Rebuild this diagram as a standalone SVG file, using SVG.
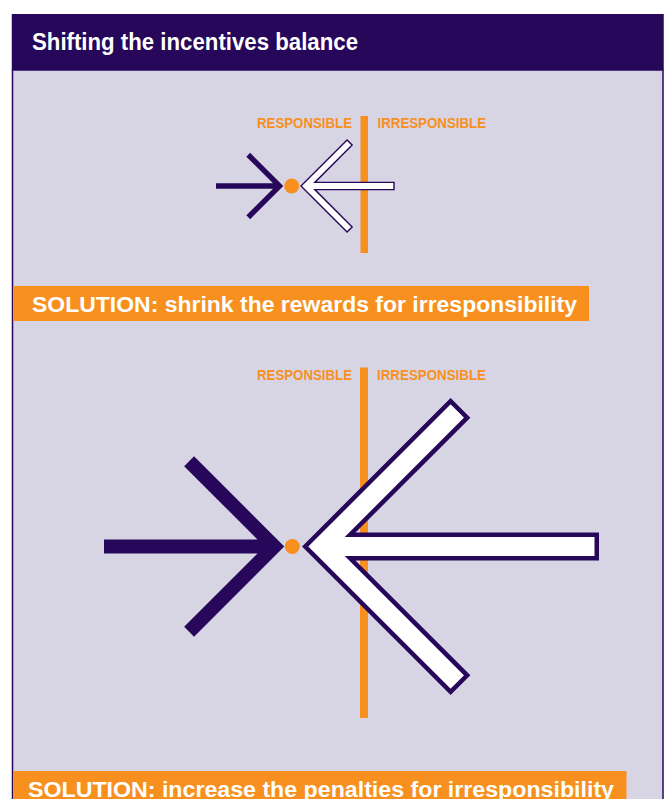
<svg xmlns="http://www.w3.org/2000/svg" width="666" height="799" viewBox="0 0 666 799">
<style>
.purple{fill:#26075a}
.orange{fill:#f7901e}
.white-arrow{fill:#ffffff;stroke:#26075a;stroke-linejoin:miter}
.title{font-family:"Liberation Sans Narrow","Liberation Sans",Arial,sans-serif;font-weight:bold;fill:#ffffff}
.lbl{font-family:"Liberation Sans Narrow","Liberation Sans",Arial,sans-serif;font-weight:bold;font-size:14px;fill:#f7901e}
</style>
<rect width="666" height="799" fill="#ffffff"/>
<g id="panel">
<rect x="12.5" y="70" width="650.5" height="740" fill="#d7d4e4" stroke="#26075a" stroke-width="1.5"/>
</g>
<g id="header">
<rect x="11.75" y="14" width="652" height="56" class="purple"/>
<text class="title" x="32" y="49.5" font-size="23" textLength="326" lengthAdjust="spacingAndGlyphs">Shifting the incentives balance</text>
</g>
<g id="diagram-small">
<text class="lbl" x="352" y="128" text-anchor="end" textLength="95" lengthAdjust="spacingAndGlyphs">RESPONSIBLE</text>
<text class="lbl" x="377.5" y="128" textLength="108.5" lengthAdjust="spacingAndGlyphs">IRRESPONSIBLE</text>
<rect class="orange" x="360.5" y="116" width="7.5" height="137"/>
<polygon class="purple" points="283.3,186 250.15,152.85 246.35,156.65 273,183.3 216,183.3 216,188.7 273,188.7 246.35,215.35 250.15,219.15"/>
<circle class="orange" cx="291.7" cy="186" r="7.5"/>
<polygon class="white-arrow" stroke-width="1.4" points="301,186 347.05,139.95 352.15,145.05 314.8,182.4 394,182.4 394,189.6 314.8,189.6 352.15,226.95 347.05,232.05"/>
</g>
<g id="solution-1">
<rect class="orange" x="14" y="286" width="575" height="35"/>
<text class="title" x="32" y="311.5" font-size="22.5" textLength="545" lengthAdjust="spacingAndGlyphs">SOLUTION: shrink the rewards for irresponsibility</text>
</g>
<g id="diagram-large">
<text class="lbl" x="352" y="380" text-anchor="end" textLength="95" lengthAdjust="spacingAndGlyphs">RESPONSIBLE</text>
<text class="lbl" x="377" y="380" textLength="109" lengthAdjust="spacingAndGlyphs">IRRESPONSIBLE</text>
<rect class="orange" x="360" y="367.5" width="8" height="350.5"/>
<polygon class="purple" points="284.3,546.5 194.05,456.25 184.15,466.15 257.5,539.5 104,539.5 104,553.5 257.5,553.5 184.15,626.85 194.05,636.75"/>
<circle class="orange" cx="292.3" cy="546.5" r="7.5"/>
<polygon class="white-arrow" stroke-width="4.5" points="305.2,546.5 450.6,401.1 467.2,417.7 350.15,534.75 596.75,534.75 596.75,558.25 350.15,558.25 467.2,675.3 450.6,691.9"/>
</g>
<g id="solution-2">
<rect class="orange" x="14" y="771" width="612.5" height="40"/>
<text class="title" x="28" y="796.5" font-size="22.5" textLength="586" lengthAdjust="spacingAndGlyphs">SOLUTION: increase the penalties for irresponsibility</text>
</g>
</svg>
